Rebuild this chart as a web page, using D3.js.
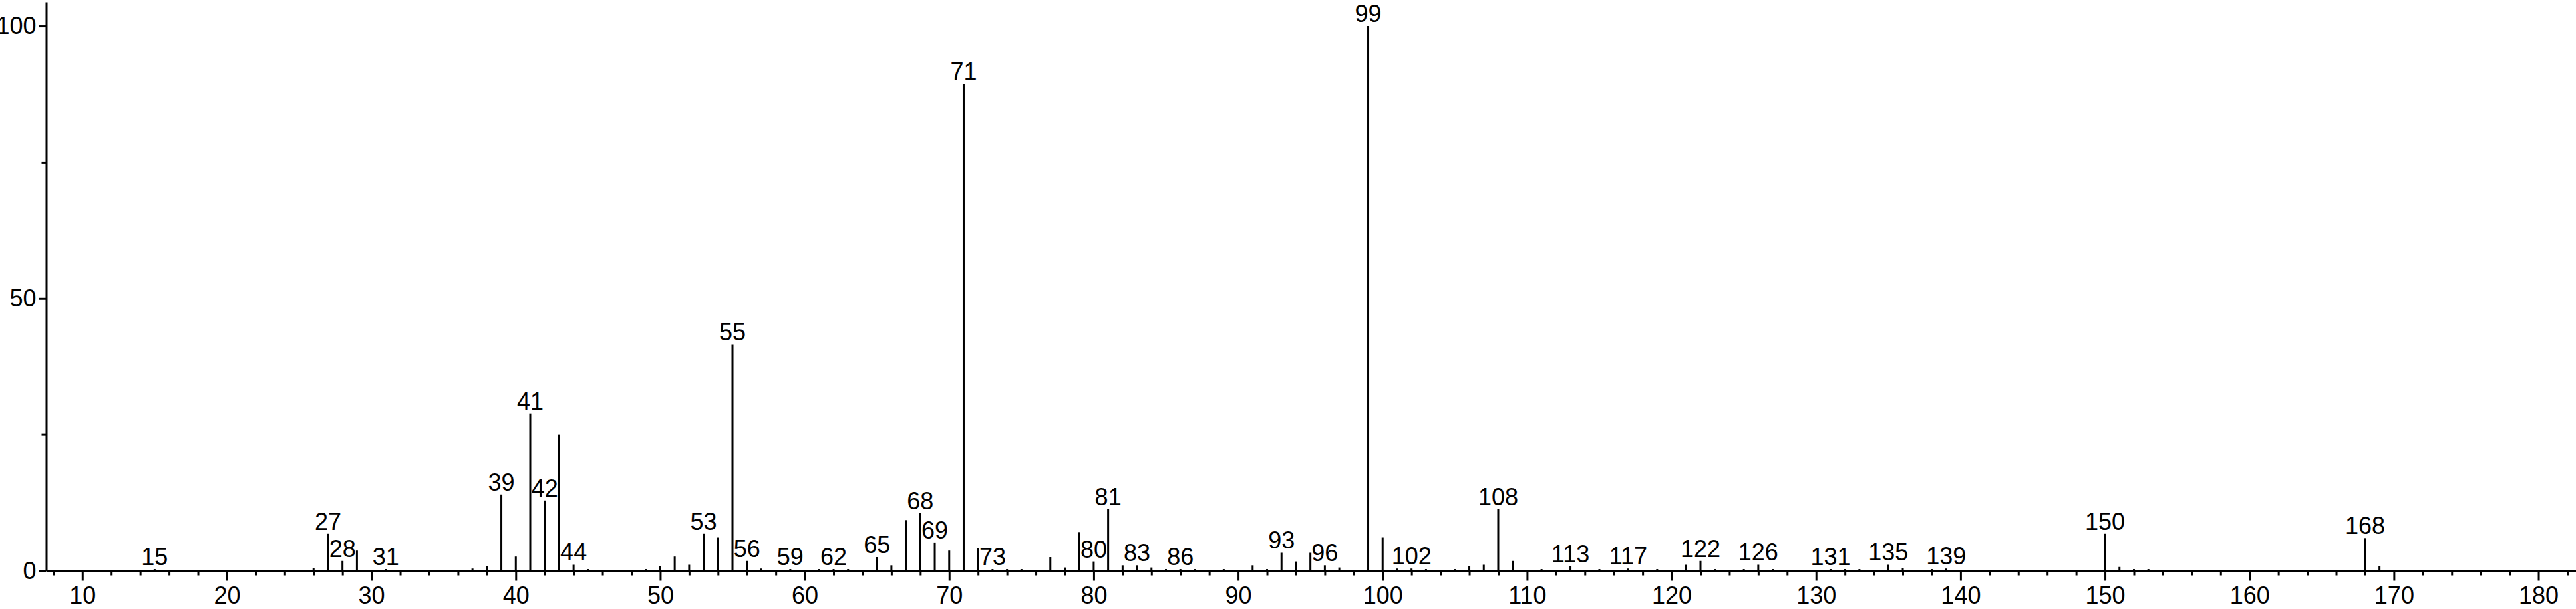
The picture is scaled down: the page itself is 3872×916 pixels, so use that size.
<!DOCTYPE html>
<html>
<head>
<meta charset="utf-8">
<script src="https://cdn.jsdelivr.net/npm/d3@7"></script>
<style>
  html, body { margin: 0; padding: 0; background: #fff; }
  svg { display: block; }
</style>
</head>
<body>
<div id="chart"></div>
<script>
// m/z values and relative intensities
const mz = [15, 26, 27, 28, 29, 31, 37, 38, 39, 40, 41, 42, 43, 44, 45, 49, 50, 51, 52, 53,
  54, 55, 56, 57, 59, 61, 62, 63, 65, 66, 67, 68, 69, 70, 71, 72, 73, 74, 75, 77,
  78, 79, 80, 81, 82, 83, 84, 85, 86, 87, 89, 91, 92, 93, 94, 95, 96, 97, 99, 100,
  101, 102, 103, 105, 106, 107, 108, 109, 111, 113, 115, 117, 119, 121, 122, 123, 125, 126, 127, 131,
  132, 133, 135, 136, 138, 139, 150, 151, 152, 153, 168, 169];
const intensity = [0.3, 0.5, 6.8, 1.8, 3.7, 0.3, 0.4, 0.8, 14.0, 2.6, 28.9, 12.9, 25.0, 1.1, 0.3, 0.3, 0.8, 2.6, 1.1, 6.8,
  6.1, 41.5, 1.8, 0.4, 0.3, 0.3, 0.3, 0.3, 2.5, 1.0, 9.3, 10.6, 5.2, 3.7, 89.4, 4.1, 0.3, 0.3, 0.3, 2.5,
  0.6, 7.1, 1.7, 11.3, 1.0, 1.0, 0.6, 0.3, 0.3, 0.3, 0.3, 1.0, 0.3, 3.3, 1.7, 3.3, 1.0, 0.6, 100, 6.1,
  0.4, 0.4, 0.3, 0.3, 0.8, 1.1, 11.3, 1.8, 0.3, 0.8, 0.3, 0.4, 0.3, 1.1, 1.8, 0.3, 0.3, 1.1, 0.3, 0.3,
  0.3, 0.3, 1.1, 0.5, 0.3, 0.4, 6.8, 0.7, 0.3, 0.3, 6.0, 0.8];
// peaks that carry an m/z label
const labeled = [15, 27, 28, 31, 39, 41, 42, 44, 53, 55, 56, 59, 62, 65, 68, 69, 71, 73, 80, 81,
  83, 86, 93, 96, 99, 102, 108, 113, 117, 122, 126, 131, 135, 139, 150, 168];
const xTicks = [10, 20, 30, 40, 50, 60, 70, 80, 90, 100, 110, 120, 130, 140, 150, 160, 170, 180];
const yTicks = [0, 50, 100];
const yMinor = [25, 75];

const width = 3872, height = 916;
const font = '"Liberation Sans Narrow", "Arial Narrow", "Liberation Sans", Arial, sans-serif';

const svg = d3.select("#chart").append("svg")
  .attr("width", width)
  .attr("height", height)
  .style("background", "#fff");

const x = d3.scaleLinear().domain([7.5, 182.6]).range([69.5, 3872]);
const y = d3.scaleLinear().domain([0, 104.4]).range([858.5, 3]);

const peaks = mz.map((m, i) => ({ m: m, v: intensity[i] }));

// sticks
svg.append("g").selectAll("line")
  .data(peaks)
  .join("line")
  .attr("x1", d => x(d.m))
  .attr("x2", d => x(d.m))
  .attr("y1", y(0))
  .attr("y2", d => y(d.v))
  .attr("stroke", "#000")
  .attr("stroke-width", 3);

// peak labels
svg.append("g").selectAll("text")
  .data(peaks.filter(d => labeled.includes(d.m)))
  .join("text")
  .attr("x", d => x(d.m))
  .attr("y", d => y(d.v) - 6)
  .attr("text-anchor", "middle")
  .attr("font-family", font)
  .attr("font-size", 36)
  .attr("fill", "#000")
  .text(d => d.m);

// x axis, minor ticks first
const minorX = d3.range(8, 183, 2).filter(v => v % 10 !== 0);
svg.append("g")
  .attr("transform", `translate(0,${y(0)})`)
  .call(d3.axisBottom(x).tickValues(minorX).tickSize(7).tickFormat("").tickSizeOuter(0))
  .call(g => g.select(".domain").remove())
  .call(g => g.selectAll(".tick line").attr("stroke-width", 3));

const xAxis = svg.append("g")
  .attr("transform", `translate(0,${y(0)})`)
  .call(d3.axisBottom(x).tickValues(xTicks).tickSize(15).tickPadding(9).tickSizeOuter(0));
xAxis.select(".domain").attr("stroke-width", 4);
xAxis.selectAll(".tick line").attr("stroke-width", 3);
xAxis.selectAll("text").attr("font-family", font).attr("font-size", 36).attr("fill", "#000");

// y axis
svg.append("g")
  .attr("transform", `translate(${x.range()[0]},0)`)
  .call(d3.axisLeft(y).tickValues(yMinor).tickSize(7).tickFormat("").tickSizeOuter(0))
  .call(g => g.select(".domain").remove())
  .call(g => g.selectAll(".tick line").attr("stroke-width", 3));

const yAxis = svg.append("g")
  .attr("transform", `translate(${x.range()[0]},0)`)
  .call(d3.axisLeft(y).tickValues(yTicks).tickSize(11).tickPadding(4).tickSizeOuter(0));
yAxis.select(".domain").attr("stroke-width", 3);
yAxis.selectAll(".tick line").attr("stroke-width", 3);
yAxis.selectAll("text").attr("font-family", font).attr("font-size", 36).attr("fill", "#000");
</script>
</body>
</html>
